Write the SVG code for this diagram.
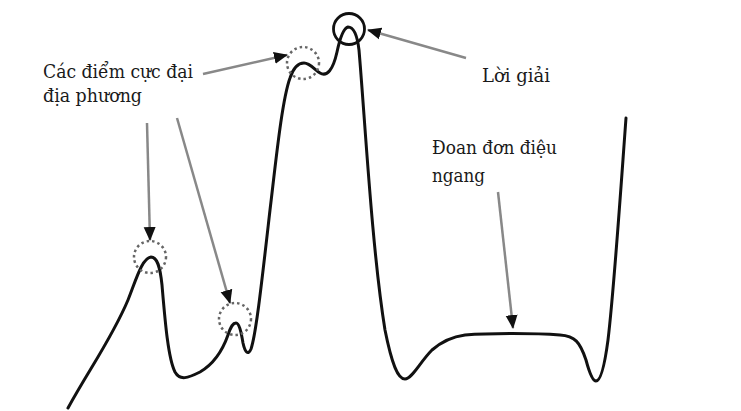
<svg xmlns="http://www.w3.org/2000/svg" width="741" height="411" viewBox="0 0 741 411">
<defs>
<marker id="ah" markerUnits="userSpaceOnUse" markerWidth="14" markerHeight="14" viewBox="0 0 14 14" refX="13" refY="7" orient="auto">
<path d="M0,1 L14,7 L0,13 Z" fill="#111"/>
</marker>
<style>
text{font-family:"DejaVu Serif","Liberation Serif",serif;font-size:18px;fill:#1a1a1a}
.curve{fill:none;stroke:#111;stroke-width:3;stroke-linecap:round;stroke-linejoin:round}
.dot{fill:none;stroke:#666;stroke-width:2.5;stroke-dasharray:2.5 3}
.sol{fill:none;stroke:#111;stroke-width:2.8}
.arr{fill:none;stroke:#888;stroke-width:2.5;marker-end:url(#ah)}
</style>
</defs>
<rect width="741" height="411" fill="#fff"/>
<g id="curve">
<path class="curve" d="M68,408 C90,368 112,338 128,300 C136,280 142,258 151,257 C157,257 160,266 162,285 C165,320 168,358 175,372 C180,381 188,378 200,372 C212,365 222,352 228,335 C231,326 233,323 236,323 C239,323 241,331 243,343 C245,352 248,356 251,349 C256,335 262,280 270,210 C276,160 282,100 290,78 C294,66 299,63 304,63 C310,63 315,70 320,73 C327,77 333,70 337,52 C340,38 344,28 348,27 C353,27 357,33 359,50 C365,120 372,250 385,330 C392,365 398,379 405,379 C412,379 420,362 432,350 C440,343 450,337 465,335 C490,333 535,333 560,335 C575,336 580,342 586,360 C590,375 593,381 596,381 C600,381 604,370 608,340 C614,290 620,200 626,118"/>
</g>
<g id="node-max1"><circle class="dot" cx="150" cy="257" r="16"/></g>
<g id="node-max2"><circle class="dot" cx="235" cy="319" r="16"/></g>
<g id="node-max3"><circle class="dot" cx="303" cy="63" r="16"/></g>
<g id="node-solution"><circle class="sol" cx="349" cy="29" r="15.5"/></g>
<g id="node-label-local">
<text x="43" y="78" textLength="150" lengthAdjust="spacingAndGlyphs">Các điểm cực đại</text>
<text x="43" y="102" textLength="99" lengthAdjust="spacingAndGlyphs">địa phương</text>
</g>
<g id="node-label-solution">
<text x="482" y="82" textLength="68" lengthAdjust="spacingAndGlyphs">Lời giải</text>
</g>
<g id="node-label-plateau">
<text x="432" y="154" textLength="125" lengthAdjust="spacingAndGlyphs">Đoan đơn điệu</text>
<text x="432" y="182" textLength="53" lengthAdjust="spacingAndGlyphs">ngang</text>
</g>
<g id="connectors">
<line class="arr" x1="147" y1="123" x2="150" y2="240"/>
<line class="arr" x1="177" y1="118" x2="230" y2="303"/>
<line class="arr" x1="203" y1="74" x2="287" y2="55"/>
<line class="arr" x1="466" y1="58" x2="368" y2="30"/>
<line class="arr" x1="498" y1="192" x2="513" y2="328"/>
</g>
</svg>
